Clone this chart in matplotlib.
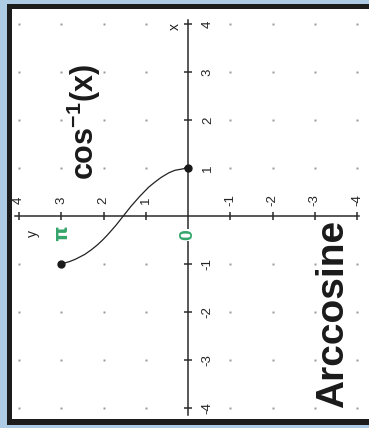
import matplotlib
matplotlib.use('Agg')
import matplotlib.pyplot as plt
from matplotlib.patches import Rectangle

plt.rcParams['font.family'] = ['Liberation Sans', 'DejaVu Sans']
plt.rcParams['mathtext.fontset'] = 'custom'
plt.rcParams['mathtext.rm'] = 'Liberation Sans:bold'
plt.rcParams['mathtext.bf'] = 'Liberation Sans:bold'

# arccos curve (x -> y)
curve_x = [-1.0, -0.95, -0.9, -0.8, -0.7, -0.6, -0.5, -0.4, -0.3, -0.2, -0.1, 0.0,
           0.1, 0.2, 0.3, 0.4, 0.5, 0.6, 0.7, 0.8, 0.9, 0.95, 1.0]
curve_y = [3.00, 2.80, 2.66, 2.44, 2.28, 2.14, 2.02, 1.91, 1.81, 1.71, 1.62, 1.53,
           1.44, 1.35, 1.25, 1.15, 1.04, 0.93, 0.79, 0.64, 0.45, 0.31, 0.0]
end_x = [-1.0, 1.0]
end_y = [3.00, 0.0]

grid_vals = [-4, -3, -2, -1, 0, 1, 2, 3, 4]
tick_vals = [-4, -3, -2, -1, 1, 2, 3, 4]
tick_labels = ['-4', '-3', '-2', '-1', '1', '2', '3', '4']

BLUE = '#aecbe6'
GREEN = '#35a56c'
AXIS = '#2a2a2a'

fig = plt.figure(figsize=(3.69, 4.28), dpi=100)
fig.patch.set_facecolor(BLUE)
# thick black frame (right side cut off by the scan)
fig.add_artist(Rectangle((7 / 369, 3 / 428), 1.0, 421 / 428,
                         transform=fig.transFigure, facecolor='#1c1c1c',
                         edgecolor='none', zorder=0))

# the graph is printed rotated: horizontal = y (increasing to the left), vertical = x
ax = fig.add_axes([12 / 369, 9 / 428, 360 / 369, 410 / 428])
ax.set_facecolor('white')
for s in ax.spines.values():
    s.set_visible(False)
ax.set_xticks([])
ax.set_yticks([])
ax.set_xlim(4.166, -4.355)
ax.set_ylim(-4.23, 4.31)

# grid dots
for gy in grid_vals:
    for gx in grid_vals:
        if gx == 0 or gy == 0:
            continue
        ax.plot(gy, gx, 's', ms=1.6, color='#9a9a9a', mec='none', zorder=1)

# axes
ax.plot([0, 0], [-4.15, 4.08], color=AXIS, lw=1.1, zorder=2)
ax.plot([4.1, -4.05], [0, 0], color=AXIS, lw=1.1, zorder=2)
ax.plot([0] * len(tick_vals), tick_vals, '_', ms=6, mew=1.1, color=AXIS, zorder=2)
ax.plot(tick_vals, [0] * len(tick_vals), '|', ms=6, mew=1.1, color=AXIS, zorder=2)

for v, lab in zip(tick_vals, tick_labels):
    ax.text(-0.47, v, lab, rotation=90, ha='center', va='center',
            fontsize=9.5, color='#222222')
    ax.text(v, 0.33, lab, rotation=90, ha='center', va='center',
            fontsize=9.5, color='#222222')

ax.text(0.31, 3.94, 'x', rotation=90, ha='center', va='center', fontsize=10, color='#222222')
ax.text(3.67, -0.37, 'y', rotation=90, ha='center', va='center', fontsize=10, color='#222222')
ax.text(2.98, -0.36, 'π', rotation=90, ha='center', va='center', fontsize=14,
        color=GREEN, fontweight='bold', family=['DejaVu Sans'])
ax.text(0, -0.40, '0', rotation=90, ha='center', va='center', fontsize=14,
        color=GREEN, fontweight='bold', zorder=3,
        bbox=dict(boxstyle='square,pad=0.02', facecolor='white', edgecolor='none'))

# curve
ax.plot(curve_y, curve_x, color='#222222', lw=0.9, zorder=4)
ax.plot(end_y, end_x, 'o', ms=5, color='#1a1a1a', zorder=5)

ax.text(2.47, 1.96, r'$\mathrm{cos}^{-1}\mathrm{(x)}$', rotation=90,
        ha='center', va='center', fontsize=22, color='#1a1a1a')
ax.text(-3.43, -2.04, 'Arccosine', rotation=90, ha='center', va='center',
        fontsize=28, fontweight='bold', color='#1a1a1a')

plt.savefig('out.png', dpi=100, facecolor=BLUE)
